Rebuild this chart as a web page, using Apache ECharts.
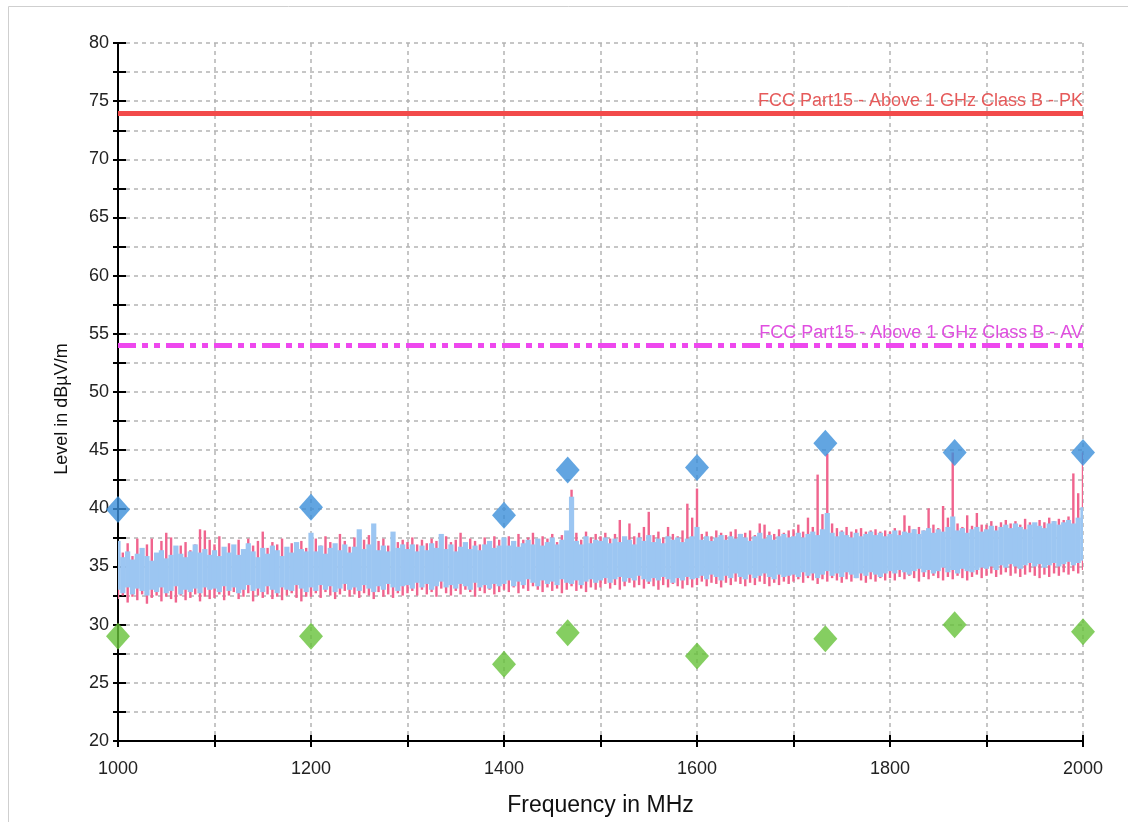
<!DOCTYPE html>
<html>
<head>
<meta charset="utf-8">
<script src="https://cdn.jsdelivr.net/npm/echarts@6/dist/echarts.min.js"></script>
<style>
    html, body { margin: 0; padding: 0; background: #fff; }
    #chart { width: 1128px; height: 822px; }
</style>
</head>
<body>
<div id="chart"></div>
<script>
    // sweep sampled every 5 MHz, 1000 .. 2000
    const freqStart = 1000;
    const freqStep = 5;

    // light blue trace (upper / lower envelope per 5 MHz bin)
    const blueHi = [
        37.2, 35.8, 36.3, 35.6, 36.1, 36.6, 35.9, 35.5, 36.2, 36.4, 35.7, 36.0, 36.8, 36.1, 35.8, 36.3, 36.9, 36.2, 36.5, 36.0,
        36.4, 35.9, 36.7, 36.2, 36.9, 36.0, 36.5, 37.0, 36.3, 35.8, 36.6, 36.1, 36.8, 36.4, 35.9, 36.7, 36.2, 37.1, 36.5, 36.3,
        37.9, 36.3, 36.8, 36.1, 36.6, 37.0, 36.4, 36.9, 36.2, 36.7, 38.2, 36.5, 36.9, 38.7, 36.4, 36.8, 36.3, 38.0, 36.6, 36.9,
        36.5, 36.9, 36.3, 36.8, 36.4, 37.0, 36.6, 37.8, 36.5, 36.9, 36.3, 36.7, 37.1, 36.5, 36.8, 36.4, 36.9, 37.2, 36.6, 36.8,
        37.5, 36.8, 37.2, 36.7, 37.0, 37.3, 36.9, 37.4, 36.8, 37.1, 37.5, 36.9, 37.3, 38.1, 41.0, 37.2, 36.9, 37.6, 37.0, 37.3,
        37.2, 37.5, 37.0, 37.4, 37.1, 37.6, 37.3, 36.9, 37.5, 37.2, 37.7, 37.1, 37.4, 37.0, 37.6, 37.3, 37.5, 37.1, 37.4, 37.6,
        38.4, 37.3, 37.6, 37.2, 37.5, 37.7, 37.3, 37.6, 37.4, 37.8, 37.5, 37.2, 37.6, 37.9, 37.4, 37.7, 37.3, 37.6, 37.8, 37.5,
        37.6, 37.9, 37.5, 37.8, 38.0, 37.7, 38.2, 39.6, 37.9, 37.6, 38.0, 37.7, 37.5, 37.9, 37.6, 37.8, 38.0, 37.7, 37.9, 37.6,
        37.8, 38.1, 37.7, 38.0, 37.9, 38.2, 37.8, 38.1, 38.3, 37.9, 38.2, 38.0, 38.4, 39.3, 38.1, 38.3, 37.9, 38.2, 38.4, 38.0,
        38.2, 38.5, 38.1, 38.4, 38.6, 38.3, 38.7, 38.4, 38.2, 38.6, 38.8, 38.5, 38.3, 38.7, 38.9, 38.6, 38.8, 39.0, 38.7, 39.2, 40.1
    ];
    const blueLo = [
        33.0, 32.7, 33.2, 32.6, 33.1, 32.9, 32.5, 33.0, 32.8, 33.2, 32.7, 32.9, 33.3, 32.6, 33.0, 32.8, 33.1, 32.7, 33.2, 33.0,
        33.1, 32.8, 33.3, 32.9, 33.2, 32.7, 33.0, 33.4, 32.9, 33.1, 32.8, 33.3, 33.0, 32.7, 33.2, 33.0, 32.9, 33.4, 33.1, 32.8,
        33.2, 32.9, 33.4, 33.0, 33.3, 32.8, 33.1, 33.5, 33.0, 33.2, 32.9, 33.4, 33.1, 32.8, 33.3, 33.0, 33.5, 33.2, 32.9, 33.3,
        33.4, 33.1, 33.6, 33.2, 33.5, 33.0, 33.3, 33.7, 33.2, 33.4, 33.1, 33.5, 33.3, 33.0, 33.6, 33.2, 33.4, 33.1, 33.5, 33.3,
        33.5, 33.8, 33.3, 33.7, 33.4, 33.9, 33.6, 33.3, 33.8, 33.5, 33.7, 33.4, 33.9, 33.6, 33.5, 33.8, 33.4, 33.7, 33.9, 33.6,
        33.8, 34.0, 33.6, 33.9, 34.1, 33.7, 34.0, 33.8, 34.2, 33.9, 33.7, 34.0, 33.8, 34.1, 33.9, 33.6, 34.0, 33.8, 34.1, 33.9,
        34.0, 34.2, 33.9, 34.3, 34.1, 33.8, 34.2, 34.0, 34.4, 34.1, 33.9, 34.3, 34.0, 34.2, 34.4, 34.1, 33.9, 34.3, 34.1, 34.2,
        34.3, 34.1, 34.5, 34.2, 34.4, 34.0, 34.3, 34.6, 34.2, 34.4, 34.1, 34.5, 34.3, 34.0, 34.4, 34.2, 34.5, 34.3, 34.1, 34.4,
        34.6, 34.4, 34.7, 34.5, 34.3, 34.6, 34.8, 34.5, 34.7, 34.4, 34.6, 34.9, 34.5, 34.7, 34.4, 34.8, 34.6, 34.5, 34.7, 34.9,
        34.8, 35.0, 34.7, 35.1, 34.9, 35.2, 35.0, 34.8, 35.1, 35.3, 35.0, 35.2, 34.9, 35.1, 35.3, 35.0, 35.2, 35.4, 35.1, 35.3, 35.5
    ];

    // pink trace
    const pinkHi = [
        36.8, 36.2, 37.0, 35.9, 37.4, 36.3, 36.9, 37.4, 36.1, 37.2, 37.9, 37.5, 36.0, 36.8, 37.1, 36.4, 36.9, 38.2, 38.1, 37.3,
        36.9, 37.6, 36.5, 37.0, 36.7, 37.3, 36.4, 37.4, 36.8, 37.2, 38.0, 36.6, 37.1, 36.9, 37.4, 36.5, 37.0, 36.8, 37.2, 36.6,
        37.0, 37.4, 36.8, 37.6, 37.1, 36.9, 37.8, 37.2, 36.7, 37.5, 37.0, 37.3, 37.7, 36.9, 37.2, 37.4, 36.8, 37.6, 37.1, 37.3,
        37.1, 37.5, 36.9, 37.3, 37.0, 37.4, 37.2, 36.9, 37.6, 37.1, 37.3, 37.9, 37.0, 37.4, 37.2, 36.9, 37.5, 37.1, 37.6, 37.3,
        37.2, 37.6, 37.0, 37.8, 37.3, 37.5, 37.9, 37.2, 37.6, 37.4, 37.8, 37.1, 37.7, 37.4, 41.6, 37.9, 37.3, 38.0, 37.5, 37.8,
        37.6, 37.9, 37.4, 37.8, 39.0, 37.5, 38.7, 37.6, 37.9, 38.4, 39.7, 37.7, 38.0, 37.5, 38.4, 37.8, 37.6, 38.1, 40.4, 39.2,
        41.7, 37.8, 38.0, 37.6, 38.1, 37.9, 37.7, 38.0, 38.2, 37.8, 37.9, 38.1, 37.7, 38.7, 38.6, 38.0, 37.8, 38.2, 37.9, 38.1,
        38.2, 38.6, 38.0, 39.2, 38.4, 42.9, 39.5, 44.7, 38.7, 38.3, 38.1, 38.4, 38.0, 38.2, 38.3, 38.0, 38.1, 38.2, 38.0, 38.1,
        38.0, 38.3, 38.1, 39.4, 38.5, 38.2, 38.4, 38.1, 40.0, 38.6, 38.3, 40.2, 39.2, 44.8, 38.7, 38.4, 39.4, 38.5, 39.6, 38.6,
        38.6, 38.9, 38.5, 38.8, 39.0, 38.7, 38.9, 38.6, 39.1, 38.8, 38.7, 39.0, 38.8, 39.2, 38.9, 39.1, 39.0, 39.3, 43.0, 41.3, 44.8
    ];
    const pinkLo = [
        32.2, 32.5, 31.9, 32.4, 32.1, 32.6, 31.8, 32.3, 32.5, 32.0, 32.4, 32.2, 31.9, 32.5, 32.1, 32.3, 32.6, 32.0, 32.4, 32.2,
        32.3, 32.6, 32.1, 32.5, 32.8, 32.2, 32.4, 32.7, 32.0, 32.5, 32.3, 32.6, 32.2, 32.4, 32.1, 32.5, 32.7, 32.3, 32.0, 32.4,
        32.4, 32.7, 32.3, 32.8, 32.5, 32.2, 32.6, 32.9, 32.4, 32.6, 32.3, 32.7, 32.5, 32.2, 32.8, 32.4, 32.6, 32.3, 32.7, 32.5,
        32.7, 32.9, 32.5, 33.0, 32.6, 32.8, 32.4, 33.1, 32.7, 32.5, 32.9, 32.6, 33.0, 32.8, 32.4, 32.9, 32.7, 33.0, 32.6, 32.8,
        33.0, 32.8, 33.2, 32.7, 33.1, 32.9, 33.3, 33.0, 32.8, 33.2, 32.9, 33.1, 32.7, 33.0, 33.3, 32.9, 33.1, 32.8, 33.2, 33.0,
        33.2, 33.5, 33.1, 33.4, 33.0, 33.3, 33.6, 33.2, 33.4, 33.1, 33.5, 33.3, 33.0, 33.4, 33.2, 33.5, 33.3, 33.1, 33.4, 33.2,
        33.4, 33.7, 33.3, 33.6, 33.5, 33.2, 33.6, 33.4, 33.7, 33.5, 33.3, 33.6, 33.4, 33.7, 33.5, 33.3, 33.6, 33.4, 33.7, 33.5,
        33.7, 33.9, 33.6, 34.0, 33.8, 33.5, 33.9, 33.7, 34.0, 33.8, 33.6, 33.9, 33.7, 34.0, 33.8, 33.6, 33.9, 33.7, 34.0, 33.8,
        34.0, 33.8, 34.1, 33.9, 34.2, 34.0, 33.7, 34.1, 33.9, 34.2, 34.0, 33.8, 34.1, 33.9, 34.2, 34.0, 33.8, 34.1, 34.3, 34.0,
        34.2, 34.4, 34.1, 34.3, 34.5, 34.2, 34.4, 34.1, 34.3, 34.5, 34.2, 34.0, 34.3, 34.1, 34.4, 34.2, 34.5, 34.3, 34.6, 34.4, 34.7
    ];

    // final measurements
    const markFreq = [1000, 1200, 1400, 1466, 1600, 1733, 1867, 2000];
    const peakVals = [39.9, 40.1, 39.4, 43.3, 43.5, 45.6, 44.8, 44.8];
    const avgVals  = [29.0, 29.0, 26.6, 29.3, 27.3, 28.8, 30.0, 29.4];

    // limits
    const limitPK = 74;
    const limitAV = 54;

    const band = (hi, lo) => hi.map((h, i) => [freqStart + i * freqStep, lo[i], h]);

    const bandItem = (color, widthRatio) => (params, api) => {
        const f = api.value(0);
        const half = freqStep / 2;
        const p1 = api.coord([f - half, api.value(2)]);
        const p2 = api.coord([f + half, api.value(1)]);
        const w = (p2[0] - p1[0]) * widthRatio;
        const cx = (p1[0] + p2[0]) / 2;
        return {
            type: 'rect',
            shape: {x: cx - w / 2, y: p1[1], width: w, height: p2[1] - p1[1]},
            style: {fill: color}
        };
    };

    const font = '"Liberation Sans", Arial, sans-serif';
    const gridLine = {show: true, lineStyle: {color: '#b4b4b4', width: 1.5, type: [4, 4]}};

    let option = {
        animation: false,
        textStyle: {fontFamily: font},
        graphic: [
            {
                type: 'rect',
                shape: {x: 8.5, y: 6.5, width: 1300, height: 1000},
                style: {fill: 'none', stroke: '#cfcfcf', lineWidth: 1},
                silent: true
            },
            {
                // y axis title
                type: 'text', x: 62, y: 409, rotation: Math.PI / 2,
                style: {
                    text: 'Level in dB\u00b5V/m', fill: '#111',
                    font: '18px "Liberation Sans", Arial, sans-serif',
                    align: 'center', verticalAlign: 'middle'
                },
                silent: true
            }
        ],
        grid: {left: 118, right: 45, top: 43, bottom: 81},
        xAxis: [
            {
                type: 'value', min: 1000, max: 2000, interval: 100,
                name: 'Frequency in MHz', nameLocation: 'middle', nameGap: 53,
                nameTextStyle: {fontSize: 23, color: '#111', fontFamily: font},
                axisLine: {lineStyle: {color: '#000', width: 2}},
                axisTick: {inside: true, length: 6, lineStyle: {color: '#000', width: 2}},
                axisLabel: {
                    fontSize: 18, color: '#222', margin: 19,
                    formatter: v => (v % 200 === 0 ? v : '')
                },
                splitLine: gridLine
            },
            {
                type: 'value', min: 1000, max: 2000, interval: 100, position: 'bottom',
                axisLine: {show: false},
                axisTick: {length: 6, lineStyle: {color: '#000', width: 2}},
                axisLabel: {show: false},
                splitLine: {show: false}
            }
        ],
        yAxis: [
            {
                type: 'value', min: 20, max: 80, interval: 2.5,
                axisLine: {show: true, lineStyle: {color: '#000', width: 2}},
                axisTick: {inside: true, length: 8, lineStyle: {color: '#000', width: 2}},
                axisLabel: {
                    fontSize: 18, color: '#222', margin: 9,
                    formatter: v => (v % 5 === 0 ? v : '')
                },
                splitLine: gridLine
            },
            {
                type: 'value', min: 20, max: 80, interval: 2.5, position: 'left',
                axisLine: {show: false},
                axisTick: {show: true, length: 5, lineStyle: {color: '#000', width: 2}},
                axisLabel: {show: false},
                splitLine: {show: false}
            }
        ],
        series: [
            {
                name: 'PK trace', type: 'custom', z: 2, clip: true,
                renderItem: bandItem('#f0648e', 0.5),
                encode: {x: 0, y: [1, 2]},
                data: band(pinkHi, pinkLo)
            },
            {
                name: 'AV trace', type: 'custom', z: 3, clip: true,
                renderItem: bandItem('#9cc6f2', 1.08),
                encode: {x: 0, y: [1, 2]},
                data: band(blueHi, blueLo)
            },
            {
                name: 'limits', type: 'line', data: [], z: 4,
                markLine: {
                    silent: true, symbol: 'none', animation: false,
                    data: [
                        {
                            yAxis: limitPK,
                            lineStyle: {color: '#f24a4a', width: 5, type: 'solid'},
                            label: {
                                show: true, position: 'insideEndTop', distance: [0, 3],
                                formatter: 'FCC Part15 - Above 1 GHz Class B - PK',
                                color: '#e65a5a', fontSize: 18, fontFamily: font
                            }
                        },
                        {
                            yAxis: limitAV,
                            lineStyle: {color: '#ee48ee', width: 5, type: [18, 6, 6, 6, 6, 6]},
                            label: {
                                show: true, position: 'insideEndTop', distance: [0, 3],
                                formatter: 'FCC Part15 - Above 1 GHz Class B - AV',
                                color: '#e04ee0', fontSize: 18, fontFamily: font
                            }
                        }
                    ]
                }
            },
            {
                name: 'Peak', type: 'scatter', z: 5,
                symbol: 'diamond', symbolSize: [24, 27],
                itemStyle: {color: '#3b8fd9'},
                data: markFreq.map((f, i) => [f, peakVals[i]])
            },
            {
                name: 'Average', type: 'scatter', z: 5,
                symbol: 'diamond', symbolSize: [24, 27],
                itemStyle: {color: '#66c23a'},
                data: markFreq.map((f, i) => [f, avgVals[i]])
            }
        ]
    };

    const chart = echarts.init(document.getElementById('chart'));
    chart.setOption(option);
</script>
</body>
</html>
